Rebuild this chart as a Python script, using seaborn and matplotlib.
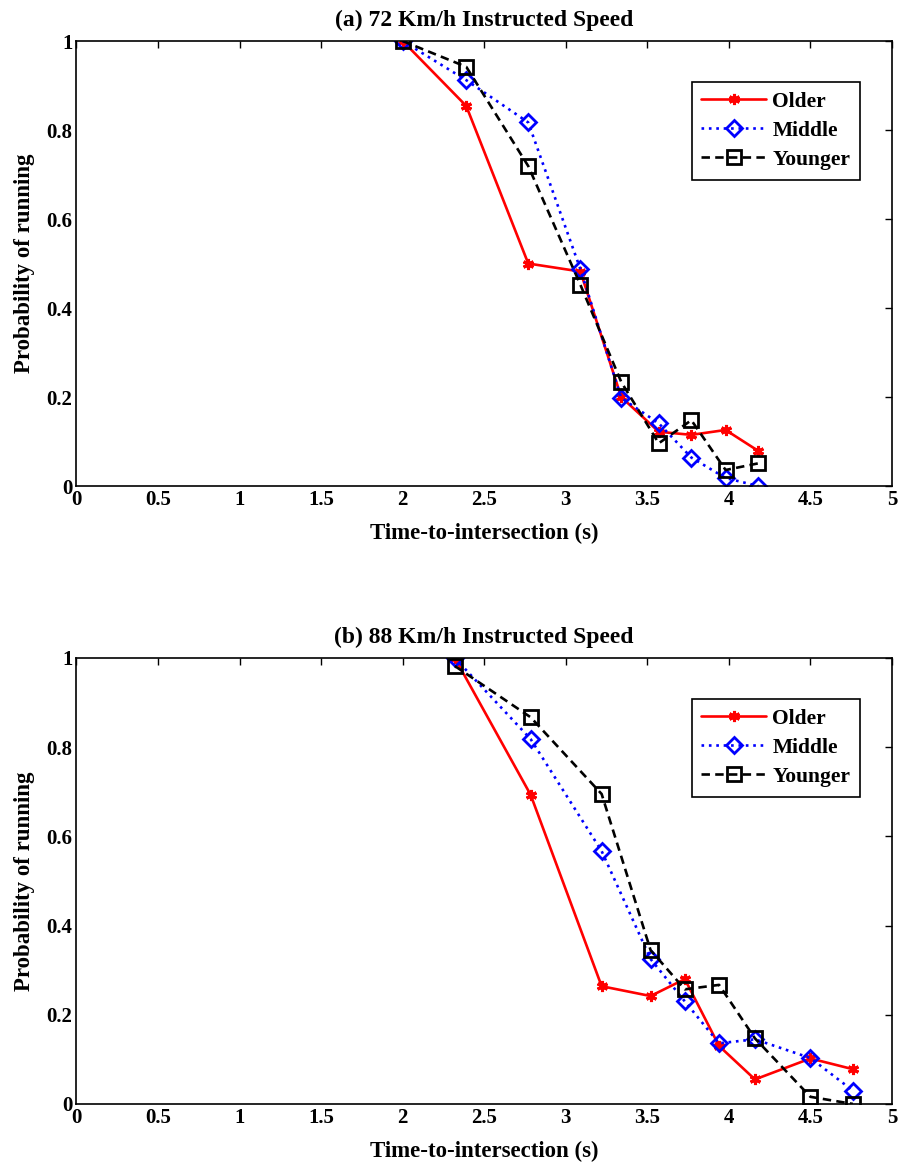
import matplotlib
matplotlib.use("Agg")
import matplotlib.pyplot as plt
import seaborn as sns
import pandas as pd

sns.set_style("white")
plt.rcParams['font.family'] = ['Liberation Serif', 'DejaVu Serif']
plt.rcParams['font.weight'] = 'bold'
plt.rcParams['text.color'] = 'black'
plt.rcParams['axes.labelcolor'] = 'black'
plt.rcParams['xtick.color'] = 'black'
plt.rcParams['ytick.color'] = 'black'
plt.rcParams['axes.edgecolor'] = 'black'

# Panel (a) 72 Km/h
x_a = [2.0, 2.39, 2.77, 3.09, 3.34, 3.57, 3.77, 3.98, 4.18]
older_a = [1.0, 0.854, 0.50, 0.482, 0.20, 0.122, 0.115, 0.126, 0.079]
middle_a = [1.0, 0.912, 0.817, 0.487, 0.198, 0.141, 0.064, 0.018, 0.0]
younger_a = [1.0, 0.942, 0.719, 0.452, 0.234, 0.096, 0.148, 0.036, 0.051]

# Panel (b) 88 Km/h
x_b = [2.32, 2.785, 3.22, 3.52, 3.73, 3.94, 4.16, 4.50, 4.76]
older_b = [1.0, 0.693, 0.264, 0.242, 0.28, 0.13, 0.055, 0.102, 0.078]
middle_b = [1.0, 0.818, 0.567, 0.325, 0.23, 0.136, 0.145, 0.103, 0.03]
younger_b = [0.982, 0.867, 0.695, 0.345, 0.257, 0.267, 0.147, 0.016, 0.0]

titles = ["(a) 72 Km/h Instructed Speed", "(b) 88 Km/h Instructed Speed"]
series_names = ["Older", "Middle", "Younger"]
x_ticks = [0, 0.5, 1, 1.5, 2, 2.5, 3, 3.5, 4, 4.5, 5]
x_tick_labels = ["0", "0.5", "1", "1.5", "2", "2.5", "3", "3.5", "4", "4.5", "5"]
y_ticks = [0, 0.2, 0.4, 0.6, 0.8, 1.0]
y_tick_labels = ["0", "0.2", "0.4", "0.6", "0.8", "1"]

styles = {
    "Older": dict(color="#ff0000", linestyle="-", marker=(6, 2, 0), markerfacecolor="#ff0000",
                  markeredgecolor="#ff0000", markersize=8, markeredgewidth=2.2, linewidth=1.9),
    "Middle": dict(color="#0000ff", linestyle=(0, (1, 1.8)), marker="D", markerfacecolor="none",
                   markeredgecolor="#0000ff", markersize=8, markeredgewidth=2.0, linewidth=1.9),
    "Younger": dict(color="#000000", linestyle=(0, (3.2, 2)), marker="s", markerfacecolor="none",
                    markeredgecolor="#000000", markersize=10, markeredgewidth=2.0, linewidth=1.9),
}

fig = plt.figure(figsize=(8.98, 11.65), dpi=100)
ax_a = fig.add_axes([0.0851, 0.5828, 0.9082, 0.3820])
ax_b = fig.add_axes([0.0851, 0.0524, 0.9082, 0.3828])

panels = [
    (ax_a, x_a, [older_a, middle_a, younger_a], titles[0]),
    (ax_b, x_b, [older_b, middle_b, younger_b], titles[1]),
]

for ax, xs, ys_list, title in panels:
    for name, ys in zip(series_names, ys_list):
        df = pd.DataFrame({"x": xs, "y": ys})
        sns.lineplot(data=df, x="x", y="y", ax=ax, sort=False, label=name, **styles[name])
    ax.set_xlim(0, 5)
    ax.set_ylim(0, 1)
    ax.set_xticks(x_ticks)
    ax.set_xticklabels(x_tick_labels, fontsize=15, fontweight="bold", color="black")
    ax.set_yticks(y_ticks)
    ax.set_yticklabels(y_tick_labels, fontsize=15, fontweight="bold", color="black")
    ax.tick_params(direction="in", length=5, width=1, top=True, right=True, pad=3, color="black")
    for s in ax.spines.values():
        s.set_visible(True)
        s.set_color("black")
        s.set_linewidth(1.2)
    ax.set_xlabel("Time-to-intersection (s)", fontsize=16.5, fontweight="bold", labelpad=9, color="black")
    ax.set_ylabel("Probability of running", fontsize=16.5, fontweight="bold", labelpad=8, color="black")
    ax.set_title(title, fontsize=17, fontweight="bold", pad=11, color="black")
    leg = ax.legend(loc="upper right", bbox_to_anchor=(0.961, 0.908), frameon=True,
                    fancybox=False, edgecolor="black", framealpha=1,
                    prop={"size": 15.5, "weight": "bold"}, handlelength=3.0,
                    borderpad=0.45, labelspacing=0.42, handletextpad=0.3,
                    borderaxespad=0)
    leg.get_frame().set_linewidth(1.2)
    for t in leg.get_texts():
        t.set_color("black")

fig.savefig("out.png", dpi=100)
